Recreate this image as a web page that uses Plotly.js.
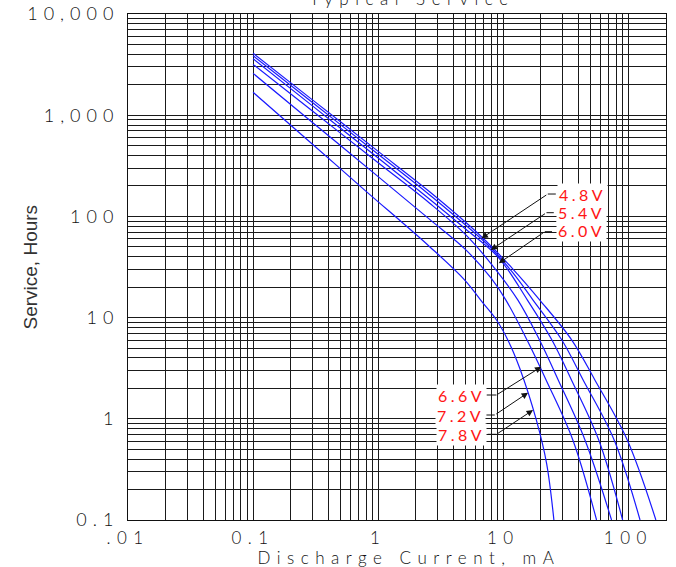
<!DOCTYPE html>
<html>
<head>
<meta charset="utf-8">
<script src="https://cdn.plot.ly/plotly-3.0.1.min.js"></script>
<style>
  html, body { margin: 0; padding: 0; background: #fff; }
  #chart { width: 676px; height: 567px; }
  .ytick text { letter-spacing: 6px; }
  .xtick text { letter-spacing: 6.5px; }
  .annotation-text { letter-spacing: 3.5px; }
  .annotation[data-index="0"] .annotation-text { letter-spacing: 0px; }
  .annotation[data-index="1"] .annotation-text,
  .annotation[data-index="2"] .annotation-text { letter-spacing: 6.5px; }
</style>
</head>
<body>
<div id="chart"></div>
<script>
// ---- Data (Discharge current mA vs Service hours) ----
const seriesNames = ['4.8V', '5.4V', '6.0V', '6.6V', '7.2V', '7.8V'];

const current48 = [0.1, 0.3, 1, 2.58, 6.7, 12, 19.6, 35.3, 54, 98, 166];
const hours48   = [4090, 1409, 439, 175, 63, 30, 14.9, 6.0, 2.42, 0.618, 0.1];

const current54 = [0.1, 0.3, 1, 2.58, 7.94, 12, 17.3, 29.4, 43.5, 77, 124];
const hours54   = [3870, 1327, 411, 163, 49, 27.5, 14.9, 6.0, 2.42, 0.618, 0.1];

const current60 = [0.1, 0.3, 1, 2.58, 5, 9.2, 15.6, 24.5, 35.1, 58, 90];
const hours60   = [3610, 1230, 377, 148, 75, 39, 14.9, 6.0, 2.42, 0.618, 0.1];

const current66 = [0.1, 0.3, 1, 2.58, 5, 8, 13.1, 19.5, 27.5, 45, 73.4];
const hours66   = [3180, 1092, 339, 135, 66, 34, 14.9, 6.0, 2.42, 0.618, 0.1];

const current72 = [0.1, 0.3, 1, 2.58, 5, 8, 10.5, 15.5, 22, 36, 55.7];
const hours72   = [2590, 843, 247, 93.5, 47, 24.5, 14.9, 6.0, 2.42, 0.618, 0.1];

const current78 = [0.1, 0.3, 0.78, 2.58, 4.92, 6.9, 8.83, 11, 13.55, 18.4, 22.2, 25.4];
const hours78   = [1683, 514, 182, 50.2, 23.5, 13.9, 9.47, 5.85, 3.16, 0.97, 0.363, 0.1];

const xTickValues = [0.01, 0.1, 1, 10, 100];
const xTickLabels = ['.01', '0.1', '1', '10', '100'];
const yTickValues = [0.1, 1, 10, 100, 1000, 10000];
const yTickLabels = ['0.1', '1', '10', '100', '1,000', '10,000'];

const chartTitle = 'Typical Service';
const xTitle = 'Discharge Current, mA';
const yTitle = 'Service, Hours';

// ---- Label leader layout (log10 axis units): text centre, text edge, elbow, arrow tip ----
const labelLayout = [
  {text: '4.8V', tx: 1.630, ty: 2.221, ex0: 1.420, ex1: 1.356, ey: 2.221, px: 0.8256, py: 1.7836},
  {text: '5.4V', tx: 1.622, ty: 2.039, ex0: 1.404, ex1: 1.3456, ey: 2.0366, px: 0.900, py: 1.668},
  {text: '6.0V', tx: 1.622, ty: 1.856, ex0: 1.390, ex1: 1.332, ey: 1.849, px: 0.964, py: 1.5365},
  {text: '6.6V', tx: 0.668, ty: 0.230, ex0: 0.8656, ex1: 0.9456, ey: 0.2352, px: 1.3056, py: 0.5148},
  {text: '7.2V', tx: 0.660, ty: 0.0375, ex0: 0.8656, ex1: 0.932, ey: 0.0375, px: 1.1984, py: 0.2579},
  {text: '7.8V', tx: 0.668, ty: -0.155, ex0: 0.876, ex1: 0.9456, ey: -0.1532, px: 1.2384, py: 0.0870}
];

const xs = [current48, current54, current60, current66, current72, current78];
const ys = [hours48, hours54, hours60, hours66, hours72, hours78];

const strokeFont = 'Lato, "DejaVu Sans", sans-serif';
const blue = 'rgb(25,25,255)';

const W = 676, H = 567;
const M = {l: 128, r: 10, t: 14, b: 47};
const plotW = W - M.l - M.r, plotH = H - M.t - M.b;
const xLogRange = [-2, Math.log10(200)];
const yLogRange = [-1, 4];
const pxPerDecX = plotW / (xLogRange[1] - xLogRange[0]);
const pxPerDecY = plotH / (yLogRange[1] - yLogRange[0]);

const traces = xs.map((x, i) => ({
  type: 'scatter', mode: 'lines', x: x, y: ys[i], name: seriesNames[i],
  line: {color: blue, width: 1.2, shape: 'spline', smoothing: 1},
  hoverinfo: 'x+y+name'
}));

function gridVals(lo, hi) {
  const v = [];
  for (let e = lo; e < hi; e++) for (let m = 1; m <= 9; m++) v.push(m * Math.pow(10, e));
  v.push(Math.pow(10, hi));
  return v;
}
function labelsFor(vals, major, majorText) {
  return vals.map(v => {
    const k = major.findIndex(m => Math.abs(m - v) / m < 1e-9);
    return k >= 0 ? majorText[k] : '';
  });
}
const xGrid = gridVals(-2, 3).filter(v => v <= 200.0001);
const yGrid = gridVals(-1, 4);

const gridColor = '#1a1a1a';
const labelFont = {family: strokeFont, size: 16, color: 'rgb(255,20,20)', weight: 400};
const textFont = {family: strokeFont, size: 18, color: '#111', weight: 300};
const smallTextFont = {family: strokeFont, size: 17, color: '#111', weight: 300};

const annotations = [];
const shapes = [];
// 0: y axis title
annotations.push({
  xref: 'paper', yref: 'paper', x: (30 - M.l) / plotW, y: 0.5,
  xanchor: 'center', yanchor: 'middle', textangle: -90,
  text: yTitle, showarrow: false,
  font: {family: '"Liberation Sans", Arial, sans-serif', size: 19, color: '#333'}
});
// 1: chart title (mostly cut off at the top edge, as in the reference)
annotations.push({
  xref: 'paper', yref: 'paper', x: (412 - M.l) / plotW, y: 1 + (M.t + 1) / plotH,
  xanchor: 'center', yanchor: 'middle',
  text: chartTitle, showarrow: false, font: smallTextFont
});
// 2: x axis title
annotations.push({
  xref: 'paper', yref: 'paper', x: (409 - M.l) / plotW, y: -(557.5 - (H - M.b)) / plotH,
  xanchor: 'center', yanchor: 'middle',
  text: xTitle, showarrow: false, font: smallTextFont
});
labelLayout.forEach(l => {
  annotations.push({
    x: l.tx, y: l.ty, xref: 'x', yref: 'y', text: l.text, showarrow: false,
    font: labelFont, bgcolor: '#fff', borderpad: 1, xanchor: 'center', yanchor: 'middle'
  });
  annotations.push({
    x: l.px, y: l.py, xref: 'x', yref: 'y',
    ax: (l.ex1 - l.px) * pxPerDecX, ay: -(l.ey - l.py) * pxPerDecY,
    text: '', showarrow: true,
    arrowhead: 2, arrowsize: 1.3, arrowwidth: 1, arrowcolor: '#111', standoff: 0
  });
  shapes.push({
    type: 'line', xref: 'x', yref: 'y',
    x0: Math.pow(10, l.ex0), x1: Math.pow(10, l.ex1),
    y0: Math.pow(10, l.ey), y1: Math.pow(10, l.ey),
    line: {color: '#111', width: 1}
  });
});

const layout = {
  width: W, height: H,
  margin: {l: M.l, r: M.r, t: M.t, b: M.b, pad: 0},
  paper_bgcolor: '#fff', plot_bgcolor: '#fff',
  showlegend: false,
  xaxis: {
    type: 'log', range: xLogRange,
    tickmode: 'array', tickvals: xGrid, ticktext: labelsFor(xGrid, xTickValues, xTickLabels),
    showgrid: true, gridcolor: gridColor, gridwidth: 1,
    showline: true, mirror: true, linecolor: '#111', linewidth: 1,
    ticks: '', zeroline: false, ticklabelstandoff: 3,
    tickfont: smallTextFont
  },
  yaxis: {
    type: 'log', range: yLogRange,
    tickmode: 'array', tickvals: yGrid, ticktext: labelsFor(yGrid, yTickValues, yTickLabels),
    showgrid: true, gridcolor: gridColor, gridwidth: 1,
    showline: true, mirror: true, linecolor: '#111', linewidth: 1,
    ticks: '', zeroline: false, ticklabelstandoff: 4,
    tickfont: textFont
  },
  annotations: annotations,
  shapes: shapes
};

Plotly.newPlot('chart', traces, layout, {displayModeBar: false, staticPlot: true});
</script>
</body>
</html>
